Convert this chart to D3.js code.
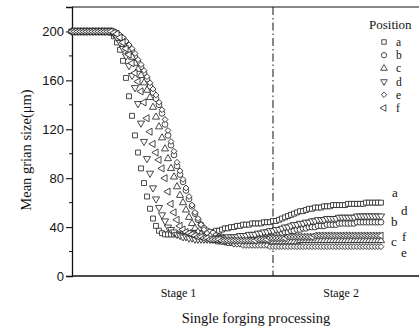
<!DOCTYPE html>
<meta charset="utf-8">
<script src="https://d3js.org/d3.v7.min.js"></script>
<style>
  body { margin: 0; background: #fff; }
  text { fill: #111; }
</style>
<div id="grainChart"></div>
<script>

// mean grain size per processing step (one step = one sample), position a..f
var posA = [200,200,200,200,200,200,200,200,200,200,200,200,200,199,196,191,185,176,162,147,
  131,115,101,88,76,65,55,47,41,37,35,34,34,34,34,34,34,34,34,35,
  35,35,35,35,35,35,36,36,37,37,38,39,39,40,40,41,41,42,42,42,
  43,43,43,43,44,44,44,45,45,46,47,48,49,50,51,52,53,53,54,55,
  55,56,56,56,57,57,57,58,58,58,58,58,59,59,59,59,59,59,60,60,
  60,60,60,60];
var posB = [200,200,200,200,200,200,200,200,200,200,200,200,200,200,199,198,196,194,191,188,
  184,179,175,171,166,161,155,150,145,140,133,124,115,107,99,90,83,77,70,63,
  57,51,46,42,39,37,36,35,33,32,32,31,31,30,30,30,30,30,30,30,
  30,31,31,31,32,32,32,33,34,34,35,36,36,37,37,38,38,39,39,40,
  40,40,41,41,41,42,42,42,42,43,43,43,43,43,43,44,44,44,44,44,
  44,44,44,44];
var posC = [200,200,200,200,200,200,200,200,200,200,200,200,200,200,199,197,195,192,188,184,
  179,174,169,164,158,152,146,138,130,122,113,104,96,88,81,73,66,60,54,48,
  43,39,36,34,32,31,30,29,29,28,28,28,27,27,27,27,27,27,27,27,
  27,27,27,27,28,28,28,28,28,28,28,28,28,28,28,28,29,29,29,29,
  29,29,29,29,29,29,29,29,29,29,29,29,29,29,29,29,29,29,29,29,
  29,29,29,29];
var posD = [200,200,200,200,200,200,200,200,200,200,200,200,200,200,198,195,191,186,180,172,
  164,154,141,125,110,96,84,72,63,56,50,45,40,38,36,34,33,32,32,31,
  31,30,30,30,30,30,30,30,31,31,31,31,32,32,32,32,33,33,33,34,
  34,34,35,35,36,36,37,37,38,38,39,40,40,41,42,42,43,43,44,44,
  45,45,46,46,46,47,47,47,47,48,48,48,48,48,48,49,49,49,49,49,
  49,49,49,49];
var posE = [200,200,200,200,200,200,200,200,200,200,200,200,200,200,200,199,197,195,192,189,
  186,182,177,173,168,163,158,153,148,142,136,128,119,110,102,93,86,79,72,65,
  58,52,47,42,38,35,33,31,30,29,28,28,27,27,26,26,26,25,25,25,
  25,25,25,25,25,25,24,24,24,24,24,24,24,24,24,24,24,24,24,24,
  24,24,24,24,24,24,24,24,24,24,24,24,24,24,24,24,24,24,24,24,
  24,24,24,24];
var posF = [200,200,200,200,200,200,200,200,200,200,200,200,200,200,199,198,195,191,186,181,
  174,166,159,151,142,129,118,108,101,95,88,80,69,59,52,46,41,38,36,35,
  34,33,32,32,31,31,30,30,30,30,29,29,29,29,29,29,29,29,29,29,
  29,29,30,30,30,30,31,31,31,31,31,31,32,32,32,32,32,32,32,32,
  32,33,33,33,33,33,33,33,33,33,33,33,33,33,33,33,33,33,33,33,
  33,33,33,33];

var positions = ["a", "b", "c", "d", "e", "f"];
var seriesValues = [posA, posB, posC, posD, posE, posF];
var yTicks = [0, 40, 80, 120, 160, 200];
var yMinorTicks = [20, 60, 100, 140, 180];
var stageSplit = 67;              // step where stage 2 begins
var stages = [{label: "Stage 1", step: 35.5}, {label: "Stage 2", step: 89.7}];

var width = 419, height = 328;
var margin = {top: 7, right: 0, bottom: 52, left: 72};

var svg = d3.select("#grainChart")
  .append("svg")
    .attr("width", width)
    .attr("height", height);

var x = d3.scaleLinear()
  .domain([0, 116])
  .range([margin.left, margin.left + 348]);

var y = d3.scaleLinear()
  .domain([0, 220])
  .range([height - margin.bottom, margin.top]);

var serif = "'Liberation Serif', 'DejaVu Serif', serif";
var sans = "'Liberation Sans', Arial, sans-serif";

// frame: left axis, bottom and top lines
svg.append("line")
  .attr("x1", margin.left).attr("x2", width)
  .attr("y1", y(0)).attr("y2", y(0))
  .attr("stroke", "#111").attr("stroke-width", 1.3);
svg.append("line")
  .attr("x1", margin.left).attr("x2", width)
  .attr("y1", y(220)).attr("y2", y(220))
  .attr("stroke", "#111").attr("stroke-width", 1.2);

var yAxis = svg.append("g")
  .attr("transform", "translate(" + margin.left + ",0)")
  .call(d3.axisLeft(y).tickValues(yTicks).tickSize(6).tickPadding(2));
yAxis.select(".domain").attr("stroke", "#111").attr("stroke-width", 1.3);
yAxis.selectAll(".tick line").attr("stroke", "#111").attr("stroke-width", 1.1);
yAxis.selectAll("text")
  .style("font-family", sans)
  .style("font-size", "13px")
  .attr("fill", "#111");

svg.append("g")
  .selectAll("line")
  .data(yMinorTicks)
  .enter()
  .append("line")
    .attr("x1", margin.left - 3).attr("x2", margin.left)
    .attr("y1", function(d) { return y(d); })
    .attr("y2", function(d) { return y(d); })
    .attr("stroke", "#111").attr("stroke-width", 1);

// stage divider
svg.append("line")
  .attr("x1", x(stageSplit)).attr("x2", x(stageSplit))
  .attr("y1", y(220)).attr("y2", y(0))
  .attr("stroke", "#111")
  .attr("stroke-width", 1)
  .attr("stroke-dasharray", "8,3,1.5,3");

// marker shapes per position
var shapes = {
  a: {type: d3.symbolSquare, size: 24, rotate: 0},
  b: {type: d3.symbolCircle, size: 26, rotate: 0},
  c: {type: d3.symbolTriangle, size: 22, rotate: 0},
  d: {type: d3.symbolTriangle, size: 22, rotate: 180},
  e: {type: d3.symbolSquare, size: 17, rotate: 45},
  f: {type: d3.symbolTriangle, size: 22, rotate: -90}
};

function symbolPath(key, scale) {
  return d3.symbol().type(shapes[key].type).size(shapes[key].size * scale)();
}

positions.forEach(function(key, k) {
  svg.append("g")
    .selectAll("path")
    .data(seriesValues[k])
    .enter()
    .append("path")
      .attr("d", symbolPath(key, 1))
      .attr("transform", function(d, i) {
        return "translate(" + x(i) + "," + y(d) + ") rotate(" + shapes[key].rotate + ")";
      })
      .attr("fill", "#fff")
      .attr("stroke", "#1a1a1a")
      .attr("stroke-width", 0.8);
});

// end-of-curve labels
var endLabels = [
  {key: "a", x: 392, y: 197},
  {key: "d", x: 401, y: 215},
  {key: "b", x: 391, y: 226},
  {key: "f", x: 402, y: 241},
  {key: "c", x: 391, y: 246},
  {key: "e", x: 401, y: 257}
];
svg.append("g")
  .selectAll("text")
  .data(endLabels)
  .enter()
  .append("text")
    .attr("x", function(d) { return d.x; })
    .attr("y", function(d) { return d.y; })
    .style("font-family", serif)
    .style("font-size", "13px")
    .text(function(d) { return d.key; });

// legend
var legend = svg.append("g");
legend.append("text")
  .attr("x", 369).attr("y", 29)
  .style("font-family", serif)
  .style("font-size", "13px")
  .text("Position");

var rows = legend.selectAll("g.row")
  .data(positions)
  .enter()
  .append("g")
    .attr("class", "row")
    .attr("transform", function(d, i) { return "translate(0," + (42 + i * 13.2) + ")"; });

rows.append("path")
  .attr("d", function(d) { return symbolPath(d, 0.85); })
  .attr("transform", function(d) { return "translate(384,0) rotate(" + shapes[d].rotate + ")"; })
  .attr("fill", "#fff")
  .attr("stroke", "#222")
  .attr("stroke-width", 0.8);

rows.append("text")
  .attr("x", 396).attr("y", 4)
  .style("font-family", serif)
  .style("font-size", "11.5px")
  .text(function(d) { return d; });

// stage labels under the axis
svg.selectAll("text.stage")
  .data(stages)
  .enter()
  .append("text")
    .attr("class", "stage")
    .attr("x", function(d) { return x(d.step); })
    .attr("y", 297)
    .attr("text-anchor", "middle")
    .style("font-family", serif)
    .style("font-size", "12px")
    .text(function(d) { return d.label; });

// axis titles
svg.append("text")
  .attr("x", 256).attr("y", 323)
  .attr("text-anchor", "middle")
  .style("font-family", serif)
  .style("font-size", "14.5px")
  .text("Single forging processing");

svg.append("text")
  .attr("transform", "translate(31,150) rotate(-90)")
  .attr("text-anchor", "middle")
  .style("font-family", serif)
  .style("font-size", "14.5px")
  .text("Mean grian size(\u03bcm)");

</script>
